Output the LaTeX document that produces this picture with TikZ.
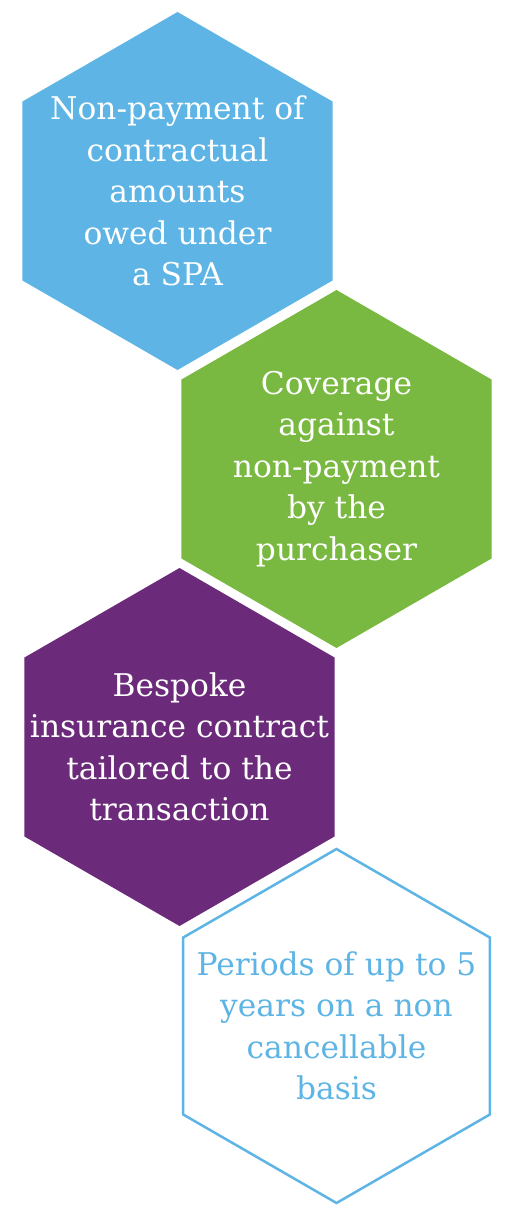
\documentclass[tikz,border=0pt]{standalone}
\usepackage{fontspec}
\setmainfont{DejaVu Serif}
\usetikzlibrary{shapes.geometric}
\definecolor{skyblue}{HTML}{5DB4E5}
\definecolor{leafgreen}{HTML}{7AB941}
\definecolor{plum}{HTML}{6B2A7A}
\begin{document}
\begin{tikzpicture}[x=1pt,y=-1pt,
  hexa/.style={regular polygon,regular polygon sides=6,shape border rotate=30,
    minimum size=358pt,inner sep=0pt,outer sep=0pt},
  hextext/.style={align=center,inner sep=0pt,font=\fontsize{31.3}{41.5}\selectfont}]
  \useasboundingbox (0,0) rectangle (504,1207);
  % hexagons, top to bottom
  \node[hexa,fill=skyblue] (spa) at (177.5,191) {};
  \node[hexa,fill=leafgreen] (cover) at (336.5,469) {};
  \node[hexa,fill=plum] (bespoke) at (179.5,747) {};
  \node[hexa,draw=skyblue,line width=2.5pt,minimum size=354pt] (period) at (336.5,1026) {};
  % texts
  \node[hextext,text=white] (spatext) at (spa) {Non-payment of\\contractual\\amounts\\owed under\\a SPA};
  \node[hextext,text=white] (covertext) at (cover) {Coverage\\against\\non-payment\\by the\\purchaser};
  \node[hextext,text=white] (bespoketext) at (bespoke) {Bespoke\\insurance contract\\tailored to the\\transaction};
  \node[hextext,text=skyblue] (periodtext) at (period) {Periods of up to 5\\years on a non\\cancellable\\basis};
\end{tikzpicture}
\end{document}
